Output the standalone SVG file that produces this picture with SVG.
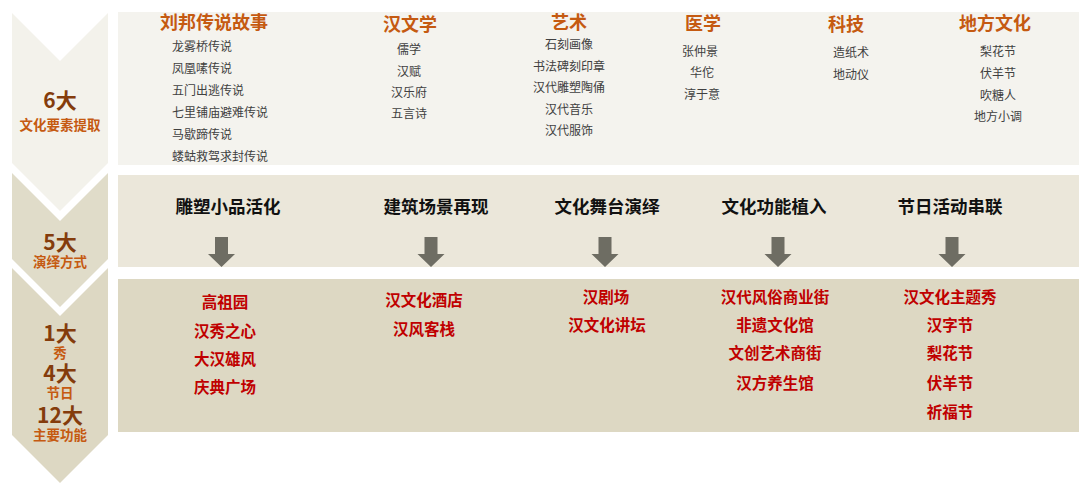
<svg xmlns="http://www.w3.org/2000/svg" width="1080" height="486" viewBox="0 0 1080 486">
<defs>
<style>
text{font-family:"Noto Sans CJK SC","Noto Sans",sans-serif;}
.big{font-size:21px;font-weight:700;fill:#843c0c;text-anchor:middle;}
.sub{font-size:13.5px;font-weight:700;fill:#c55a11;text-anchor:middle;}
.h1{font-size:18px;font-weight:700;fill:#c55a11;text-anchor:middle;}
.it{font-size:12px;fill:#404040;}
.itc{font-size:12px;fill:#404040;text-anchor:middle;}
.h2{font-size:17.5px;font-weight:700;fill:#111111;text-anchor:middle;}
.rd{font-size:15.5px;font-weight:700;fill:#c00000;text-anchor:middle;}
.arr{fill:#6e6d63;}
</style>
<path id="arr" d="M-6.5,0 H6.5 V17 H13.5 L0,30 L-13.5,17 H-6.5 Z"/>
</defs>
<rect width="1080" height="486" fill="#ffffff"/>

<g id="chevrons">
<polygon id="chev1" points="12,13 60,61 108,13 108,163 60,211 12,163" fill="#f3f2eb"/>
<polygon id="chev2" points="12,173 60,221 108,173 108,259 60,307 12,259" fill="#e0dcc9"/>
<polygon id="chev3" points="12,268 60,316 108,268 108,435 60,483 12,435" fill="#ddd8c3"/>
</g>

<g id="stage1-label">
<text class="big" x="60" y="107.5">6大</text>
<text class="sub" x="60" y="130">文化要素提取</text>
</g>
<g id="stage2-label">
<text class="big" x="60" y="249.5">5大</text>
<text class="sub" x="60" y="267">演绎方式</text>
</g>
<g id="stage3-label">
<text class="big" x="60" y="340.5">1大</text>
<text class="sub" x="60" y="358">秀</text>
<text class="big" x="60" y="380.5">4大</text>
<text class="sub" x="60" y="398">节日</text>
<text class="big" x="60" y="422.5">12大</text>
<text class="sub" x="60" y="440">主要功能</text>
</g>

<g id="panel-top">
<rect x="118" y="12" width="961" height="153" fill="#f4f3ee"/>
<g id="col-liubang">
<text class="h1" x="214" y="28.5">刘邦传说故事</text>
<text class="it" x="172" y="51">龙雾桥传说</text>
<text class="it" x="172" y="73">凤凰嗉传说</text>
<text class="it" x="172" y="95">五门出逃传说</text>
<text class="it" x="172" y="117">七里铺庙避难传说</text>
<text class="it" x="172" y="139">马歇蹄传说</text>
<text class="it" x="172" y="161">蝼蛄救驾求封传说</text>
</g>
<g id="col-literature">
<text class="h1" x="410" y="30.5">汉文学</text>
<text class="itc" x="409" y="54">儒学</text>
<text class="itc" x="409" y="76">汉赋</text>
<text class="itc" x="409" y="97">汉乐府</text>
<text class="itc" x="409" y="118">五言诗</text>
</g>
<g id="col-art">
<text class="h1" x="569" y="28.5">艺术</text>
<text class="itc" x="569" y="49">石刻画像</text>
<text class="itc" x="569" y="71">书法碑刻印章</text>
<text class="itc" x="569" y="92">汉代雕塑陶俑</text>
<text class="itc" x="569" y="114">汉代音乐</text>
<text class="itc" x="569" y="135">汉代服饰</text>
</g>
<g id="col-medicine">
<text class="h1" x="703" y="29.5">医学</text>
<text class="itc" x="700" y="56">张仲景</text>
<text class="itc" x="702" y="76.5">华佗</text>
<text class="itc" x="702" y="98.5">淳于意</text>
</g>
<g id="col-tech">
<text class="h1" x="846" y="30.5">科技</text>
<text class="itc" x="851" y="57">造纸术</text>
<text class="itc" x="851" y="78.5">地动仪</text>
</g>
<g id="col-local">
<text class="h1" x="995" y="29.5">地方文化</text>
<text class="itc" x="998" y="56">梨花节</text>
<text class="itc" x="998" y="77.5">伏羊节</text>
<text class="itc" x="998" y="100">吹糖人</text>
<text class="itc" x="998" y="121">地方小调</text>
</g>
</g>

<g id="panel-middle">
<rect x="118" y="175" width="961" height="92" fill="#ebe7da"/>
<text class="h2" x="228" y="213.3">雕塑小品活化</text>
<text class="h2" x="436" y="213.3">建筑场景再现</text>
<text class="h2" x="607" y="213.3">文化舞台演绎</text>
<text class="h2" x="774" y="213.3">文化功能植入</text>
<text class="h2" x="950" y="213.3">节日活动串联</text>
</g>

<g id="connectors">
<use href="#arr" class="arr" x="221.5" y="237"/>
<use href="#arr" class="arr" x="431" y="237"/>
<use href="#arr" class="arr" x="605" y="237"/>
<use href="#arr" class="arr" x="778" y="237"/>
<use href="#arr" class="arr" x="952" y="237"/>
</g>

<g id="panel-bottom">
<rect x="118" y="279" width="961" height="153" fill="#ddd8c3"/>
<g id="out-sculpture">
<text class="rd" x="225" y="307.6">高祖园</text>
<text class="rd" x="225" y="336.6">汉秀之心</text>
<text class="rd" x="225" y="364.6">大汉雄风</text>
<text class="rd" x="225" y="392.6">庆典广场</text>
</g>
<g id="out-architecture">
<text class="rd" x="424" y="305.6">汉文化酒店</text>
<text class="rd" x="424" y="334.6">汉风客栈</text>
</g>
<g id="out-stage">
<text class="rd" x="606" y="302.6">汉剧场</text>
<text class="rd" x="607" y="330.6">汉文化讲坛</text>
</g>
<g id="out-function">
<text class="rd" x="775" y="302.6">汉代风俗商业街</text>
<text class="rd" x="775" y="330.6">非遗文化馆</text>
<text class="rd" x="775" y="358.6">文创艺术商街</text>
<text class="rd" x="775" y="388.6">汉方养生馆</text>
</g>
<g id="out-festival">
<text class="rd" x="950" y="302.6">汉文化主题秀</text>
<text class="rd" x="950" y="330.6">汉字节</text>
<text class="rd" x="950" y="358.6">梨花节</text>
<text class="rd" x="950" y="388.6">伏羊节</text>
<text class="rd" x="950" y="417.6">祈福节</text>
</g>
</g>
</svg>
